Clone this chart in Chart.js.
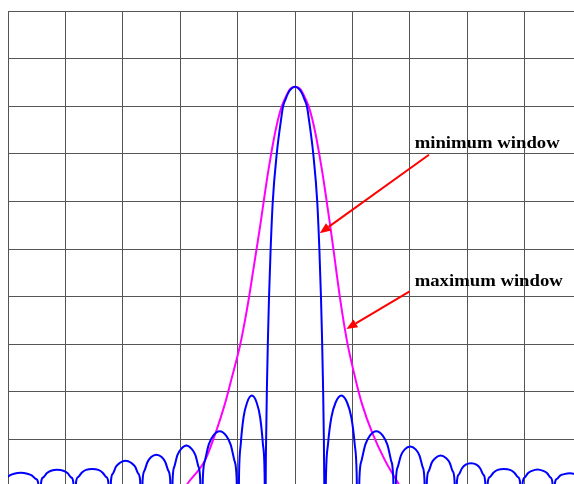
<!DOCTYPE html>
<html>
<head>
<meta charset="utf-8">
<script src="https://cdn.jsdelivr.net/npm/chart.js@4"></script>
<style>
  html, body { margin: 0; padding: 0; background: #fff; overflow: hidden; }
</style>
</head>
<body>
<canvas id="myChart" width="590" height="500"></canvas>
<script>
      // x in grid divisions from the centre, y in dB (10 dB per division)
      let blueX = [
        -5.110, -5.083, -5.044, -4.977, -4.895, -4.779, -4.663, -4.580, -4.514, -4.474,
        -4.448, -4.423, -4.387, -4.326, -4.250, -4.143, -4.036, -3.960, -3.899, -3.862,
        -3.838, -3.814, -3.777, -3.716, -3.640, -3.533, -3.426, -3.350, -3.289, -3.253,
        -3.228, -3.206, -3.173, -3.118, -3.049, -2.952, -2.855, -2.786, -2.731, -2.698,
        -2.676, -2.655, -2.624, -2.571, -2.506, -2.415, -2.323, -2.258, -2.206, -2.174,
        -2.153, -2.132, -2.101, -2.049, -1.983, -1.892, -1.801, -1.735, -1.683, -1.652,
        -1.631, -1.605, -1.567, -1.503, -1.424, -1.312, -1.200, -1.121, -1.057, -1.018,
        -0.993, -0.974, -0.945, -0.897, -0.836, -0.752, -0.667, -0.607, -0.559, -0.530,
        -0.513, -0.510, -0.503, -0.490, -0.472, -0.453, -0.425, -0.387, -0.319, -0.244,
        -0.209, -0.166, -0.117, -0.052, 0, 0.052, 0.117, 0.166, 0.209,
        0.244, 0.319, 0.387, 0.425, 0.453, 0.472, 0.490, 0.503, 0.510,
        0.517, 0.541, 0.575, 0.633, 0.706, 0.807, 0.909, 0.982, 1.040, 1.074,
        1.098, 1.123, 1.161, 1.225, 1.305, 1.417, 1.529, 1.609, 1.673, 1.711,
        1.737, 1.759, 1.791, 1.845, 1.912, 2.007, 2.102, 2.169, 2.223, 2.255,
        2.277, 2.298, 2.329, 2.382, 2.447, 2.538, 2.630, 2.695, 2.747, 2.779,
        2.800, 2.821, 2.853, 2.907, 2.974, 3.067, 3.161, 3.228, 3.281, 3.313,
        3.334, 3.359, 3.395, 3.456, 3.533, 3.639, 3.746, 3.822, 3.883, 3.920,
        3.944, 3.967, 4.000, 4.057, 4.127, 4.226, 4.324, 4.394, 4.451, 4.484,
        4.507, 4.529, 4.563, 4.618, 4.688, 4.786, 4.883, 4.953, 5.009, 5.042,
        5.064
      ];
      let blueY = [
        -115, -99.1, -98.3, -97.6, -97.2, -97.0, -97.2, -97.6, -98.3, -99.1,
        -115, -99.0, -98.0, -97.1, -96.6, -96.4, -96.6, -97.1, -98.0, -99.0,
        -115, -98.9, -97.9, -97.0, -96.4, -96.2, -96.4, -97.0, -97.9, -98.9,
        -115, -98.7, -97.2, -95.7, -94.9, -94.5, -94.9, -95.7, -97.2, -98.7,
        -115, -98.6, -96.6, -94.8, -93.7, -93.2, -93.7, -94.8, -96.6, -98.6,
        -115, -98.4, -95.7, -93.3, -92.0, -91.3, -92.0, -93.3, -95.7, -98.4,
        -115, -98.0, -94.4, -91.1, -89.2, -88.3, -89.2, -91.1, -94.4, -98.0,
        -115, -97.1, -91.0, -85.4, -82.3, -80.8, -82.3, -85.4, -91.0, -97.1,
        -115, -99.3, -90.1, -79.6, -69.1, -60.3, -50.2, -40.0, -30.1, -22.9,
        -20.1, -18.6, -17.2, -16.2, -15.9, -16.2, -17.2, -18.6, -20.1,
        -22.9, -30.1, -40.0, -50.2, -60.3, -69.1, -79.6, -90.1, -99.3,
        -115, -97.1, -91.0, -85.4, -82.3, -80.8, -82.3, -85.4, -91.0, -97.1,
        -115, -98.0, -94.4, -91.1, -89.2, -88.3, -89.2, -91.1, -94.4, -98.0,
        -115, -98.4, -95.8, -93.4, -92.1, -91.5, -92.1, -93.4, -95.8, -98.4,
        -115, -98.6, -96.7, -94.9, -93.9, -93.4, -93.9, -94.9, -96.7, -98.6,
        -115, -98.8, -97.4, -96.1, -95.3, -95.0, -95.3, -96.1, -97.4, -98.8,
        -115, -98.9, -97.9, -97.0, -96.4, -96.2, -96.4, -97.0, -97.9, -98.9,
        -115, -99.0, -98.0, -97.1, -96.6, -96.3, -96.6, -97.1, -98.0, -99.0,
        -115, -99.1, -98.3, -97.6, -97.3, -97.1, -97.3, -97.6, -98.3, -99.1,
        -115
      ];

      let magentaX = [
        -1.983, -1.861, -1.564, -1.382, -1.225, -1.111, -0.955, -0.876, -0.803, -0.737,
        -0.672, -0.606, -0.545, -0.484, -0.415, -0.354, -0.298, -0.233, -0.185, -0.127,
        -0.075, 0.003, 0.082, 0.134, 0.192, 0.240, 0.305, 0.361, 0.422, 0.491,
        0.552, 0.613, 0.671, 0.726, 0.784, 0.848, 0.918, 1.057, 1.171, 1.345,
        1.563, 1.794, 1.902
      ];
      let magentaY = [
        -101.2, -99.1, -94.3, -88.6, -82.7, -77.5, -70.1, -65.3, -60.3, -55.2,
        -50.2, -45.1, -40.0, -35.0, -30.0, -26.0, -22.9, -20.1, -18.7, -17.2,
        -16.3, -15.9, -16.3, -17.2, -18.7, -20.1, -22.9, -26.0, -30.0, -35.0,
        -40.0, -45.1, -50.2, -55.2, -60.3, -65.3, -70.1, -77.5, -82.7, -88.6,
        -94.3, -99.1, -101.2
      ];

      // x ticks: -5..5, y ticks: -100..0 dB
      let xTicks = [-5, 5, 1];
      let yTicks = [-100, 0, 10];

      // annotations: label, label position, arrow start, arrow tip (data units)
      let noteText = ["minimum window", "maximum window"];
      let noteX = [2.085, 2.085];
      let noteY = [-28.8, -57.7];
      let arrowFromX = [2.334, 1.998];
      let arrowFromY = [-30.2, -58.9];
      let arrowToX = [0.430, 0.895];
      let arrowToY = [-46.7, -66.8];

      function toPoints(xs, ys) {
        let pts = [];
        for (let i = 0; i < xs.length; i++) {
          pts.push({ x: xs[i], y: ys[i] });
        }
        return pts;
      }

      function drawArrow(ctx, x1, y1, x2, y2) {
        let ang = Math.atan2(y2 - y1, x2 - x1);
        let len = 11, half = 4.5;
        let bx = x2 - len * Math.cos(ang);
        let by = y2 - len * Math.sin(ang);
        ctx.beginPath();
        ctx.moveTo(x1, y1);
        ctx.lineTo(bx, by);
        ctx.stroke();
        ctx.beginPath();
        ctx.moveTo(x2, y2);
        ctx.lineTo(bx + half * Math.sin(ang), by - half * Math.cos(ang));
        ctx.lineTo(bx - half * Math.sin(ang), by + half * Math.cos(ang));
        ctx.closePath();
        ctx.fill();
      }

      let notesPlugin = {
        id: "notes",
        afterDraw(chart) {
          let ctx = chart.ctx;
          let xs = chart.scales.x;
          let ys = chart.scales.y;
          for (let i = 0; i < noteText.length; i++) {
            ctx.save();
            ctx.font = 'bold 17px "Liberation Serif", serif';
            ctx.textBaseline = "alphabetic";
            ctx.textAlign = "left";
            ctx.fillStyle = "#000";
            ctx.translate(xs.getPixelForValue(noteX[i]), ys.getPixelForValue(noteY[i]));
            ctx.scale(1.1, 1);
            ctx.fillText(noteText[i], 0, 0);
            ctx.restore();

            ctx.save();
            ctx.strokeStyle = "#ff0000";
            ctx.fillStyle = "#ff0000";
            ctx.lineWidth = 2;
            drawArrow(ctx,
              xs.getPixelForValue(arrowFromX[i]), ys.getPixelForValue(arrowFromY[i]),
              xs.getPixelForValue(arrowToX[i]), ys.getPixelForValue(arrowToY[i]));
            ctx.restore();
          }
        }
      };

      let gridColor = "#555555";
      let ctx = document.getElementById("myChart").getContext("2d");
      let chart = new Chart(ctx, {
        type: "line",
        data: {
          datasets: [
            {
              label: "minimum window",
              data: toPoints(blueX, blueY),
              borderColor: "#0000ff",
              borderWidth: 2,
              pointRadius: 0,
              cubicInterpolationMode: "monotone",
              fill: false,
            },
            {
              label: "maximum window",
              data: toPoints(magentaX, magentaY),
              borderColor: "#ff00ff",
              borderWidth: 2,
              pointRadius: 0,
              cubicInterpolationMode: "monotone",
              fill: false,
            },
          ],
        },
        options: {
          responsive: false,
          animation: false,
          layout: { padding: { left: 8, top: 11, right: 8, bottom: 13 } },
          plugins: { legend: { display: false }, tooltip: { enabled: false } },
          scales: {
            x: {
              type: "linear",
              min: xTicks[0],
              max: xTicks[1],
              ticks: { display: false, stepSize: xTicks[2] },
              grid: { color: gridColor, drawTicks: false },
              border: { color: gridColor },
            },
            y: {
              type: "linear",
              min: yTicks[0],
              max: yTicks[1],
              ticks: { display: false, stepSize: yTicks[2] },
              grid: { color: gridColor, drawTicks: false },
              border: { color: gridColor },
            },
          },
        },
        plugins: [notesPlugin],
      });
</script>
</body>
</html>
